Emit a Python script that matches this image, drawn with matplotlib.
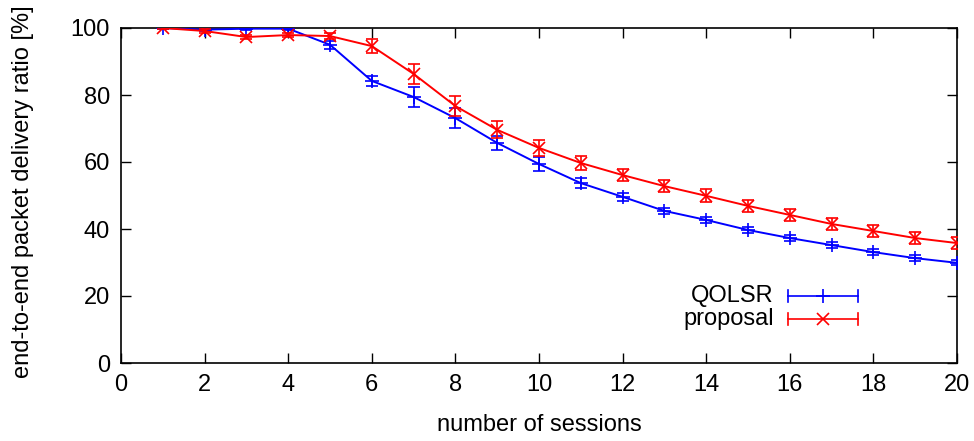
import matplotlib
matplotlib.use("Agg")
import matplotlib.pyplot as plt

plt.rcParams['font.family'] = ['Liberation Sans', 'DejaVu Sans']

sessions = list(range(1, 21))
qolsr = [100, 99.5, 99.8, 99.8, 95.0, 84.2, 79.4, 73.1, 65.7, 59.4,
         53.7, 49.6, 45.4, 42.7, 39.7, 37.3, 35.2, 33.1, 31.3, 29.9]
qolsr_err = [0.3, 0.5, 0.3, 0.3, 1.2, 1.5, 3.0, 3.0, 2.0, 2.0,
             1.5, 1.2, 1.0, 0.9, 0.9, 0.8, 0.8, 0.8, 0.8, 0.7]
proposal = [100, 99.1, 97.3, 97.9, 97.6, 94.6, 86.3, 76.7, 69.6, 64.2,
            59.7, 56.1, 52.8, 49.9, 46.9, 44.2, 41.5, 39.4, 37.3, 35.8]
proposal_err = [0.3, 0.5, 0.6, 0.6, 0.8, 2.0, 3.0, 3.0, 2.5, 2.3,
                2.0, 1.9, 1.9, 1.9, 1.9, 1.8, 1.8, 1.7, 1.7, 1.7]

xticks = list(range(0, 21, 2))
yticks = list(range(0, 101, 20))

fig = plt.figure(figsize=(9.74, 4.41), dpi=100)
ax = fig.add_axes([121/974, 1-363/441, (957-121)/974, (363-28)/441])

blue = '#0000ff'
red = '#ff0000'
ax.errorbar(sessions, qolsr, yerr=qolsr_err, color=blue, lw=1.4, marker='+',
            ms=10, mew=1.2, capsize=4, elinewidth=1.2, capthick=1.2, zorder=3)
ax.errorbar(sessions, proposal, yerr=proposal_err, color=red, lw=1.4, marker='x',
            ms=9, mew=1.2, capsize=4, elinewidth=1.2, capthick=1.2, zorder=4)

ax.set_xlim(0, 20)
ax.set_ylim(0, 100)
ax.set_xticks(xticks)
ax.set_yticks(yticks)
ax.tick_params(direction='in', length=7, width=1, top=True, right=True,
               labelsize=17, pad=8)
for s in ax.spines.values():
    s.set_linewidth(1.2)
ax.set_xlabel('number of sessions', fontsize=17, labelpad=13)
ax.set_ylabel('end-to-end packet delivery ratio [%]', fontsize=17, va='center')
ax.yaxis.set_label_coords((23 - 121) / 836, (363 - 191.5) / 335)

# gnuplot-style legend
tr = ax.transAxes
def lx(px):
    return (px - 121) / (957 - 121)
def ly(py):
    return (363 - py) / (363 - 28)
for name, col, mk, ms, py in [('QOLSR', blue, '+', 10, 296), ('proposal', red, 'x', 9, 319)]:
    x0, x1 = lx(788), lx(858)
    y = ly(py)
    ax.plot([x0, x1], [y, y], color=col, lw=1.2, transform=tr, clip_on=False)
    h = 0.018
    ax.plot([x0, x0], [y - h, y + h], color=col, lw=1.2, transform=tr)
    ax.plot([x1, x1], [y - h, y + h], color=col, lw=1.2, transform=tr)
    ax.plot([(x0 + x1) / 2], [y], marker=mk, ms=ms, mew=1.2, color=col, transform=tr)
    ax.text(lx(774), y, name, transform=tr, ha='right', va='center', fontsize=17)

fig.savefig('out.png', dpi=100)
